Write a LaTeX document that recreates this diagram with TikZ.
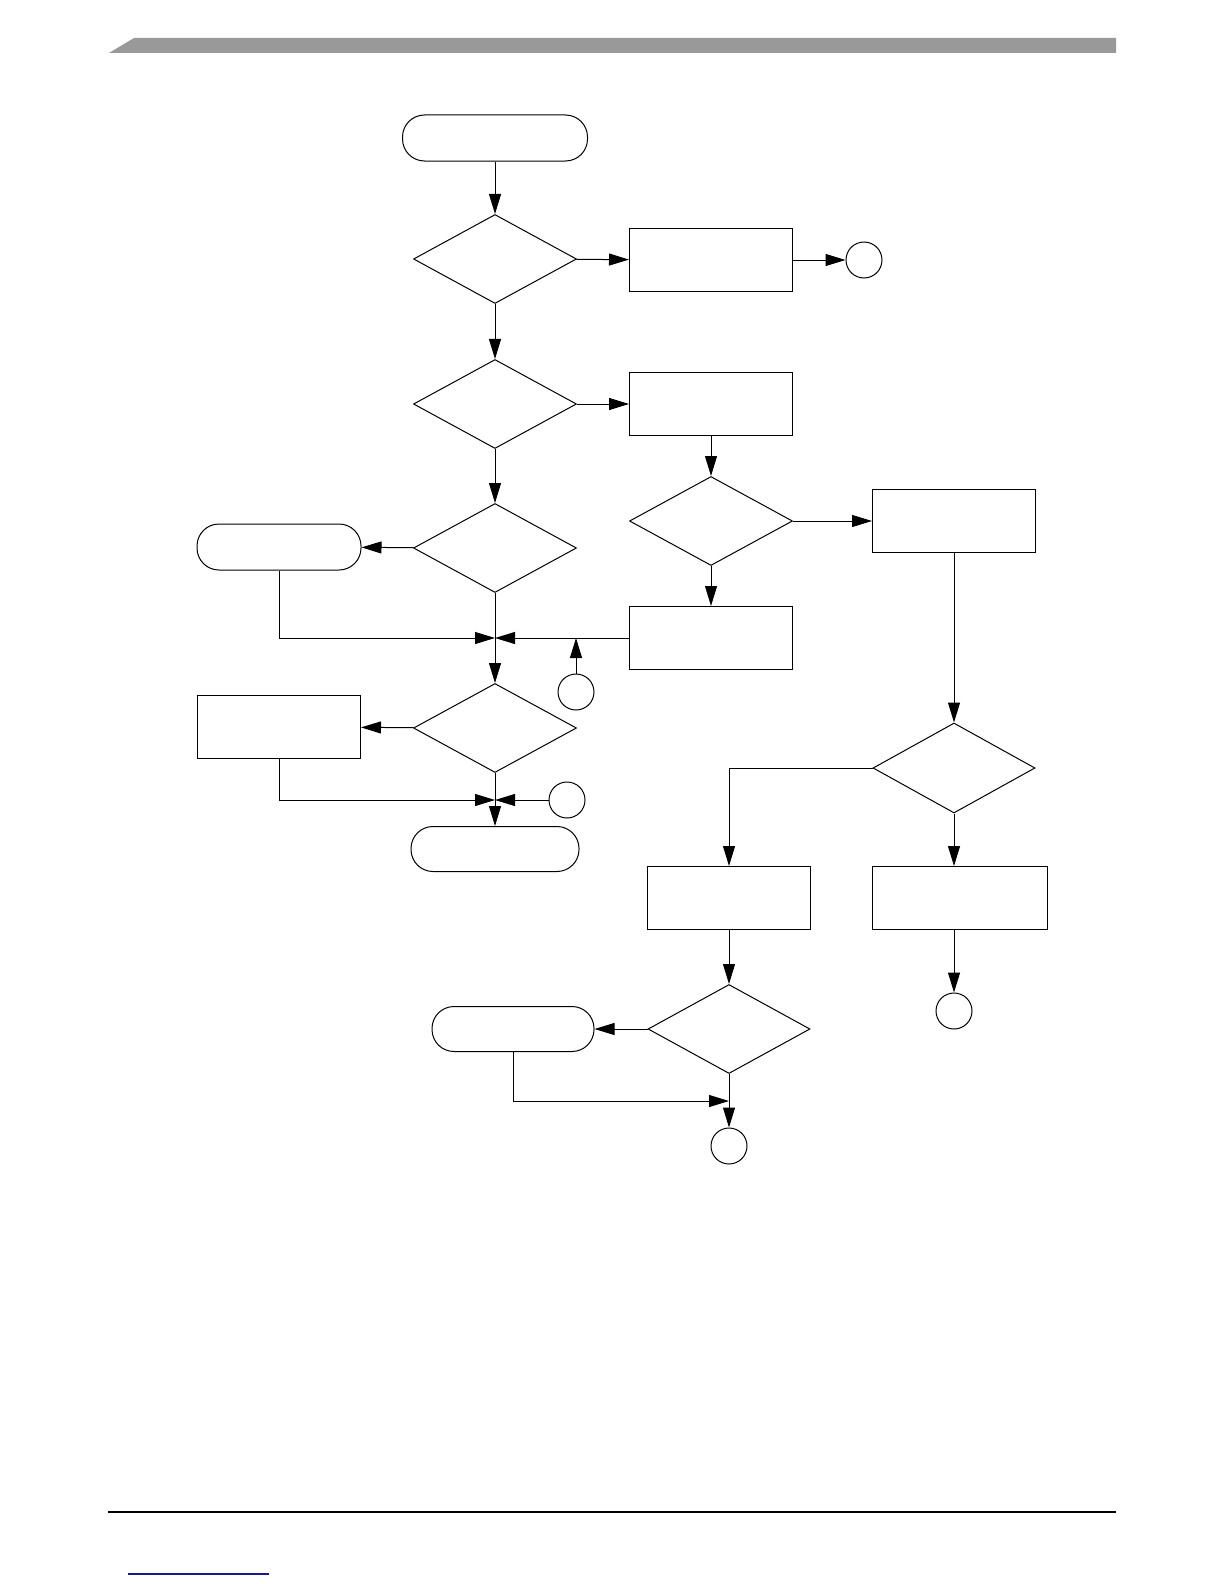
\documentclass[tikz,border=0pt]{standalone}
\usepackage{xcolor}
\usepackage{tikz}
\usetikzlibrary{
  arrows.meta, shapes, positioning, calc
}
\definecolor{C_BAR} {HTML}{999999}
\definecolor{C_LINK}{HTML}{1A1A8C}
\tikzset{
  %% -- flowchart start / end terminator --
  FC/term/.style={
    draw, rounded corners=22pt, line width=1pt,
    minimum width=164pt, minimum height=46pt, inner sep=0pt
  },
  %% -- flowchart decision --
  FC/dec/.style={
    draw, diamond, line width=1pt,
    minimum width=163pt, minimum height=89pt, inner sep=0pt
  },
  %% -- flowchart process box --
  FC/proc/.style={
    draw, rectangle, line width=1pt,
    minimum width=163pt, minimum height=63pt, inner sep=0pt
  },
  %% -- flowchart off-page connector --
  FC/conn/.style={
    draw, circle, line width=1pt,
    minimum size=36pt, inner sep=0pt
  },
  %% -- flowchart arrow --
  FC/arr/.style={-{Triangle[length=20pt, width=12pt]}, line width=1pt},
}

\begin{document}
\begin{tikzpicture}[
  x=1pt, y=-1pt,
]
\useasboundingbox (0,0) rectangle (1224,1584);

%% Page header / footer
\fill[C_BAR] (109,53) -- (134,38) -- (1116,38) -- (1116,53) -- cycle;
\draw[line width=1.2pt] (108,1512) -- (1116,1512);
\draw[C_LINK, line width=1.2pt] (128,1574) -- (269,1574);

%% Main column
\node[FC/term, minimum width=185pt] (start) at (495, 138) {};
\node[FC/dec]  (d1)  at (495, 259) {};
\node[FC/proc] (p1)  at (711, 260) {};
\node[FC/conn] (c1)  at (864, 260) {};
\node[FC/dec]  (d2)  at (495, 404) {};
\node[FC/proc] (p2)  at (711, 404) {};
\node[FC/dec]  (d3)  at (495, 548) {};
\node[FC/term] (t1)  at (279, 547) {};
\coordinate    (j1)  at (495, 638);
\node[FC/conn] (c2)  at (576, 692) {};
\node[FC/dec]  (d5)  at (495, 728) {};
\node[FC/proc] (p5)  at (279, 727) {};
\coordinate    (j2)  at (495, 800);
\node[FC/conn] (c3)  at (567, 800) {};
\node[FC/term, minimum width=168pt, minimum height=45pt]
  (finish) at (495, 849) {};

%% Right branch
\node[FC/dec]  (d4)  at (711, 521) {};
\node[FC/proc] (p3)  at (954, 521) {};
\node[FC/proc] (p4)  at (711, 638) {};
\node[FC/dec, minimum width=162pt, minimum height=90pt]
  (d6) at (954, 768) {};
\node[FC/proc] (p6)  at (729, 898) {};
\node[FC/proc, minimum width=175pt] (p7) at (960, 898) {};
\node[FC/conn] (c4)  at (954, 1011) {};
\node[FC/dec, minimum width=162pt] (d7) at (729, 1029) {};
\node[FC/term, minimum width=162pt, minimum height=45pt]
  (t2) at (513, 1029) {};
\coordinate    (j3)  at (729, 1101);
\node[FC/conn] (c5)  at (729, 1146) {};

%% Main column connectors
\draw[FC/arr] (start) -- (d1);
\draw[FC/arr] (d1) -- (p1);
\draw[FC/arr] (p1) -- (c1);
\draw[FC/arr] (d1) -- (d2);
\draw[FC/arr] (d2) -- (p2);
\draw[FC/arr] (d2) -- (d3);
\draw[FC/arr] (d3) -- (t1);
\draw[FC/arr] (d3) -- (d5);
\draw[FC/arr] (t1.south) |- (j1);
\draw[FC/arr] (p4.west) -- (j1);
\draw[FC/arr] (c2) -- (c2 |- j1);
\draw[FC/arr] (d5) -- (p5);
\draw[FC/arr] (d5) -- (finish);
\draw[FC/arr] (p5.south) |- (j2);
\draw[FC/arr] (c3) -- (j2);

%% Right branch connectors
\draw[FC/arr] (p2) -- (d4);
\draw[FC/arr] (d4) -- (p3);
\draw[FC/arr] (d4) -- (p4);
\draw[FC/arr] (p3) -- (d6);
\draw[FC/arr] (d6.west) -| (p6.north);
\draw[FC/arr] (d6.south) -- (d6.south |- p7.north);
\draw[FC/arr] (c4 |- p7.south) -- (c4);
\draw[FC/arr] (p6) -- (d7);
\draw[FC/arr] (d7) -- (t2);
\draw[FC/arr] (d7) -- (c5);
\draw[FC/arr] (t2.south) |- (j3);
\end{tikzpicture}
\end{document}
